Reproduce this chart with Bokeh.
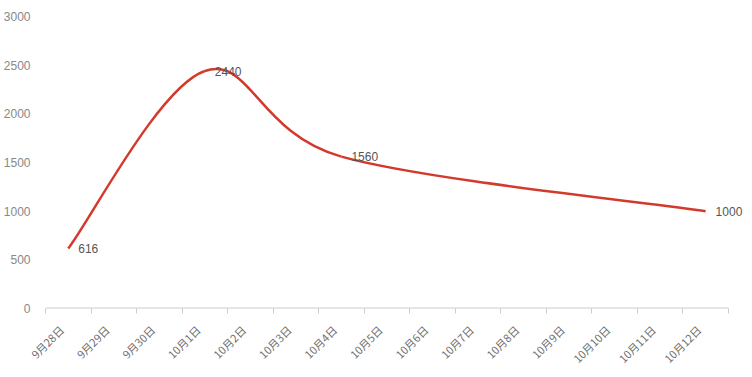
import numpy as np
from bokeh.plotting import figure
from bokeh.models import FixedTicker, Range1d, ColumnDataSource, LabelSet
from bokeh.core.properties import value
from bokeh.embed import file_html
from bokeh.resources import INLINE

# ---- data ----
dates = ["9月28日", "9月29日", "9月30日", "10月1日", "10月2日", "10月3日", "10月4日",
         "10月5日", "10月6日", "10月7日", "10月8日", "10月9日", "10月10日", "10月11日", "10月12日"]
point_dates = ["9月28日", "10月1日", "10月4日", "10月12日"]
point_values = [616, 2440, 1560, 1000]
y_ticks = [0, 500, 1000, 1500, 2000, 2500, 3000]

n = len(dates)
xc = [i + 0.5 for i in range(n)]
pos = {d: i + 0.5 for i, d in enumerate(dates)}

# frame runs to the right edge so the last value label is not clipped
p = figure(width=752, height=377, output_backend="svg", toolbar_location=None,
           x_range=Range1d(0, n + 0.53), y_range=Range1d(0, 3000),
           min_border_left=43, min_border_right=0, min_border_top=16, min_border_bottom=69)
p.outline_line_color = None
p.grid.visible = False
p.background_fill_color = "white"
p.border_fill_color = "white"

# axis baseline over the category span only
p.segment(x0=[0], y0=[0], x1=[n], y1=[0], line_color="#cccccc", line_width=2)

# smooth line: Catmull-Rom spline through the points, drawn as cubic Bezier segments
P = np.array(point_values, dtype=float)
X = np.array([pos[d] for d in point_dates], dtype=float)
Pm = np.concatenate([[P[0]], P, [P[-1]]])
Xm = np.concatenate([[X[0]], X, [X[-1]]])
src = ColumnDataSource(dict(
    x0=X[:-1], y0=P[:-1], x1=X[1:], y1=P[1:],
    cx0=Xm[1:-2] + (Xm[2:-1] - Xm[0:-3]) / 6.0,
    cy0=Pm[1:-2] + (Pm[2:-1] - Pm[0:-3]) / 6.0,
    cx1=Xm[2:-1] - (Xm[3:] - Xm[1:-2]) / 6.0,
    cy1=Pm[2:-1] - (Pm[3:] - Pm[1:-2]) / 6.0))
p.bezier(x0="x0", y0="y0", x1="x1", y1="y1", cx0="cx0", cy0="cy0", cx1="cx1", cy1="cy1",
         source=src, line_color="#d43a2c", line_width=2.5)

# value labels
lsrc = ColumnDataSource(dict(x=X, y=P, t=[str(v) for v in point_values]))
p.add_layout(LabelSet(x="x", y="y", text="t", source=lsrc, x_offset=10, y_offset=0,
                      text_align="left", text_baseline="middle",
                      text_font=value("Liberation Sans"), text_font_size=value("12px"),
                      text_color="#555555"))

# x axis: ticks on category boundaries, labels at category centres
xa = p.xaxis[0]
shift = 0.15
xa.ticker = FixedTicker(ticks=[x - shift for x in xc], minor_ticks=list(range(n + 1)))
xa.major_label_overrides = {x - shift: d for x, d in zip(xc, dates)}
xa.major_label_orientation = np.pi / 4
xa.major_tick_in = 0
xa.major_tick_out = 0
xa.minor_tick_in = 0
xa.minor_tick_out = 5
xa.minor_tick_line_color = "#cccccc"
xa.axis_line_color = None
xa.major_label_text_font = "Noto Sans CJK SC"
xa.major_label_text_font_size = "11px"
xa.major_label_text_color = "#707070"
xa.major_label_standoff = 14

# y axis
ya = p.yaxis[0]
ya.ticker = FixedTicker(ticks=y_ticks)
ya.axis_line_color = None
ya.major_tick_line_color = None
ya.minor_tick_line_color = None
ya.major_label_text_font = "Liberation Sans"
ya.major_label_text_font_size = "12px"
ya.major_label_text_color = "#888888"
ya.major_label_standoff = 9

open("out.html", "w").write(file_html(p, INLINE))
